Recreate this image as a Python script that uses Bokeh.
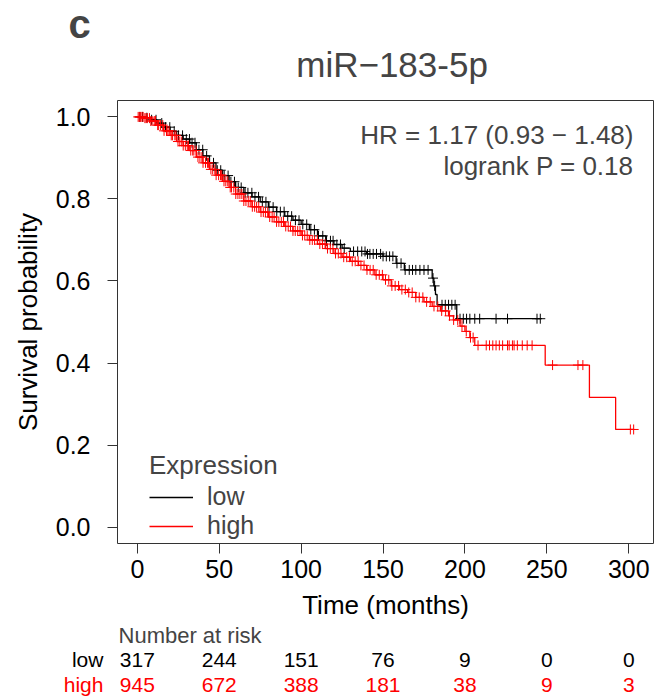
import numpy as np
from bokeh.plotting import figure
from bokeh.layouts import column
from bokeh.core.properties import value
from bokeh.models import (Range1d, FixedTicker, PrintfTickFormatter, Label, LabelSet,
                          ColumnDataSource, Legend, LegendItem)
from bokeh.embed import file_html
from bokeh.resources import INLINE

# ---------------- data ----------------
low_times = [0, 4, 8, 12, 16, 20, 24, 28, 32, 36, 40, 44, 48, 52, 56, 60, 65, 70, 75, 80,
             85, 90, 95, 100, 105, 110, 115, 120, 125, 130, 140, 150, 158, 163, 180, 181,
             182, 183, 195, 246]
low_surv = [1.0, 0.998, 0.993, 0.985, 0.975, 0.965, 0.955, 0.946, 0.937, 0.92, 0.905, 0.888,
            0.87, 0.857, 0.842, 0.828, 0.815, 0.805, 0.793, 0.78, 0.769, 0.758, 0.748, 0.738,
            0.725, 0.71, 0.698, 0.689, 0.68, 0.672, 0.666, 0.66, 0.643, 0.627, 0.607, 0.588,
            0.567, 0.542, 0.508, 0.508]

high_times = [0, 4, 8, 12, 16, 20, 24, 28, 32, 36, 40, 44, 48, 52, 56, 60, 65, 70, 75, 80,
              85, 90, 95, 100, 105, 110, 115, 120, 125, 130, 135, 140, 145, 150, 155, 160,
              165, 170, 175, 180, 185, 190, 193, 197, 200, 203, 206, 249, 276, 292, 303]
high_surv = [1.0, 0.997, 0.99, 0.98, 0.966, 0.955, 0.94, 0.93, 0.918, 0.902, 0.888, 0.872,
             0.858, 0.843, 0.828, 0.812, 0.795, 0.781, 0.768, 0.756, 0.744, 0.733, 0.722,
             0.711, 0.70, 0.69, 0.679, 0.667, 0.658, 0.648, 0.638, 0.627, 0.615, 0.603,
             0.588, 0.579, 0.572, 0.56, 0.549, 0.538, 0.527, 0.515, 0.505, 0.49, 0.477,
             0.462, 0.443, 0.395, 0.316, 0.238, 0.238]

low_censor = [1.5, 3.2, 5.8, 8.7, 11.4, 14.9, 17.2, 19.8, 22.5, 25.1, 27.6, 29.9, 31.8, 33.4,
              35.2, 37.6, 39.9, 42.3, 44.1, 46.5, 48.8, 50.9, 53.0, 55.4, 57.1, 59.3, 61.6,
              63.4, 65.8, 67.5, 69.9, 71.8, 74.0, 76.3, 78.5, 80.4, 82.9, 85.1, 87.3, 89.6,
              91.8, 94.2, 96.5, 98.7, 101.0, 103.4, 105.9, 108.1, 110.6, 113.2, 115.5, 117.9,
              119.5, 121.8, 124.0, 126.3, 132, 134.5, 137, 139, 140.5, 142, 144, 146, 148.5,
              150, 152, 154, 156, 158.5, 161, 163.5, 166, 168, 170, 172.5, 175, 177.5, 180.5,
              181.5, 186, 188, 190, 192, 194, 197, 199, 201, 203, 206, 209, 219, 226, 244, 246]

high_censor = [0.5, 1.2, 2.0, 2.8, 3.5, 4.6, 5.3, 6.1, 7.4, 8.2, 9.0, 10.3, 11.1, 12.4, 13.0,
               14.2, 15.5, 16.3, 17.8, 18.6, 19.4, 20.7, 21.5, 22.9, 23.6, 24.8, 25.9, 27.1,
               28.0, 29.3, 30.5, 31.2, 32.6, 33.8, 34.5, 35.9, 37.0, 38.2, 39.4, 40.1, 41.6,
               42.8, 43.5, 44.9, 46.0, 47.3, 48.1, 49.6, 50.8, 51.5, 52.9, 54.0, 55.2, 56.7,
               57.5, 58.9, 60.1, 61.4, 62.6, 63.8, 65.0, 66.3, 67.7, 68.9, 70.2, 71.6, 72.8,
               74.1, 75.5, 76.9, 78.2, 79.6, 80.8, 82.3, 83.5, 85.0, 86.4, 87.9, 89.2, 90.6,
               92.1, 93.5, 95.0, 96.4, 97.9, 99.3, 100.8, 102.2, 103.7, 105.3, 106.8, 108.2,
               109.9, 111.4, 113.0, 114.6, 116.1, 117.8, 119.4, 121.0, 122.7, 124.3, 126.0,
               127.8, 129.5, 131.2, 133.0, 134.8, 136.5, 138.4, 140.2, 142.1, 144.0, 145.8,
               147.7, 149.6, 151.5, 153.5, 155.4, 157.4, 159.5, 161.5, 163.6, 165.7, 167.8,
               170.0, 172.1, 174.3, 176.6, 178.8, 181.1, 183.4, 185.8, 188.2, 190.6, 193.1,
               195.6, 198.2, 200.8, 203.4, 205.0, 208, 213, 215, 217, 219, 221, 223, 226, 227,
               229, 230, 232, 235, 238, 241, 253.5, 269, 272, 301, 303]

risk_times = [0, 50, 100, 150, 200, 250, 300]
risk_low = [317, 244, 151, 76, 9, 0, 0]
risk_high = [945, 672, 388, 181, 38, 9, 3]

x_ticks = [0, 50, 100, 150, 200, 250, 300]
y_ticks = [0.0, 0.2, 0.4, 0.6, 0.8, 1.0]

title_text = "miR\u2212183-5p"
hr_text = "HR = 1.17 (0.93 \u2212 1.48)"
p_text = "logrank P = 0.18"

FONT = "Liberation Sans"
RED = "#FF0000"
BLACK = "#000000"

# ---------------- geometry ----------------
W = 660
X0, X1 = -12.12, 315.12          # R-style 4% extended time axis
FRAME_L, FRAME_R = 117, 653
PX_PER = (FRAME_R - FRAME_L) / (X1 - X0)
X0_FULL = X0 - FRAME_L / PX_PER   # same scale over the full width for the text strips


def step_at(times, surv, t):
    idx = np.searchsorted(np.asarray(times), np.asarray(t), side="right") - 1
    return list(np.asarray(surv)[idx])


def strip(height):
    f = figure(width=W, height=height, output_backend="svg", toolbar_location=None,
               x_range=Range1d(X0_FULL, X1), y_range=Range1d(0, height),
               x_axis_location=None, y_axis_location=None,
               min_border=0, min_border_left=0, min_border_top=0, min_border_bottom=0,
               min_border_right=W - FRAME_R, frame_align=False)
    f.outline_line_color = None
    f.grid.visible = False
    f.background_fill_color = "white"
    f.border_fill_color = "white"
    return f


# ---------------- title strip ----------------
TOP_H = 98
top = strip(TOP_H)
top.add_layout(Label(x=-42, y=TOP_H - 23, text="c", text_font=FONT, text_font_size="40px",
                     text_font_style="bold", text_align="left", text_baseline="middle"))
top.add_layout(Label(x=155.5, y=TOP_H - 64, text=title_text, text_font=FONT,
                     text_font_size="35px", text_align="center", text_baseline="middle"))

# ---------------- main plot ----------------
MAIN_H = 524
p = figure(width=W, height=MAIN_H, output_backend="svg", toolbar_location=None,
           x_range=Range1d(X0, X1), y_range=Range1d(-0.04, 1.04),
           min_border_left=FRAME_L, min_border_right=W - FRAME_R, min_border_top=2,
           min_border_bottom=MAIN_H - 2 - 448, frame_align=False)
p.background_fill_color = "white"
p.border_fill_color = "white"
p.outline_line_color = "#333333"
p.outline_line_width = 1
p.grid.visible = False

p.xaxis.ticker = FixedTicker(ticks=x_ticks)
p.yaxis.ticker = FixedTicker(ticks=y_ticks)
p.yaxis.formatter = PrintfTickFormatter(format="%.1f")
for ax in (p.xaxis, p.yaxis):
    ax.axis_line_color = None
    ax.major_tick_line_color = "#333333"
    ax.major_tick_in = 0
    ax.major_tick_out = 10
    ax.minor_tick_line_color = None
    ax.major_label_text_font = FONT
    ax.major_label_text_font_size = "25px"
    ax.major_label_text_color = "black"
    ax.axis_label_text_font = FONT
    ax.axis_label_text_font_size = "26px"
    ax.axis_label_text_font_style = "normal"
    ax.axis_label_text_color = "black"
p.xaxis.axis_label = "Time (months)"
p.yaxis.axis_label = "Survival probability"
p.xaxis.major_label_standoff = 6
p.xaxis.axis_label_standoff = 9
p.yaxis.major_label_standoff = 17
p.yaxis.axis_label_standoff = 10

r_low = p.step(x=low_times, y=low_surv, mode="after", line_color=BLACK, line_width=1.3)
p.scatter(x=low_censor, y=step_at(low_times, low_surv, low_censor), marker="cross",
          size=10, line_color=BLACK, line_width=1)
r_high = p.step(x=high_times, y=high_surv, mode="after", line_color=RED, line_width=1.3)
p.scatter(x=high_censor, y=step_at(high_times, high_surv, high_censor), marker="cross",
          size=10, line_color=RED, line_width=1)

legend = Legend(items=[LegendItem(label="low", renderers=[r_low]),
                       LegendItem(label="high", renderers=[r_high])],
                title="Expression", location=(32, 3), padding=0, spacing=0,
                glyph_width=44, glyph_height=20, label_height=20, label_standoff=14,
                label_text_font=FONT, label_text_font_size="25px",
                title_text_font=FONT, title_text_font_size="26px",
                title_text_font_style="normal", title_standoff=1,
                border_line_color=None, background_fill_alpha=0)
p.add_layout(legend)

p.add_layout(Label(x=302.9, y=0.956, text=hr_text, text_font=FONT, text_font_size="26px",
                   text_align="right", text_baseline="middle"))
p.add_layout(Label(x=302.9, y=0.881, text=p_text, text_font=FONT, text_font_size="26px",
                   text_align="right", text_baseline="middle"))

# ---------------- number-at-risk strip ----------------
RISK_H = 74
risk = strip(RISK_H)
ROW_HDR, ROW_LOW, ROW_HIGH = RISK_H - 13, RISK_H - 37, RISK_H - 62
risk.add_layout(Label(x=-11.5, y=ROW_HDR, text="Number at risk", text_font=FONT,
                      text_font_size="22px", text_align="left", text_baseline="middle"))
risk.add_layout(Label(x=-20.7, y=ROW_LOW, text="low", text_font=FONT, text_font_size="21px",
                      text_align="right", text_baseline="middle", text_color=BLACK))
risk.add_layout(Label(x=-20.7, y=ROW_HIGH, text="high", text_font=FONT, text_font_size="21px",
                      text_align="right", text_baseline="middle", text_color=RED))
src_low = ColumnDataSource(dict(t=risk_times, y=[ROW_LOW] * len(risk_times),
                                txt=[str(v) for v in risk_low]))
src_high = ColumnDataSource(dict(t=risk_times, y=[ROW_HIGH] * len(risk_times),
                                 txt=[str(v) for v in risk_high]))
risk.add_layout(LabelSet(x="t", y="y", text="txt", source=src_low, text_font=value(FONT),
                         text_font_size=value("21px"), text_align="center",
                         text_baseline="middle", text_color=BLACK))
risk.add_layout(LabelSet(x="t", y="y", text="txt", source=src_high, text_font=value(FONT),
                         text_font_size=value("21px"), text_align="center",
                         text_baseline="middle", text_color=RED))

layout = column(top, p, risk, spacing=0)
open("out.html", "w").write(file_html(layout, INLINE))
